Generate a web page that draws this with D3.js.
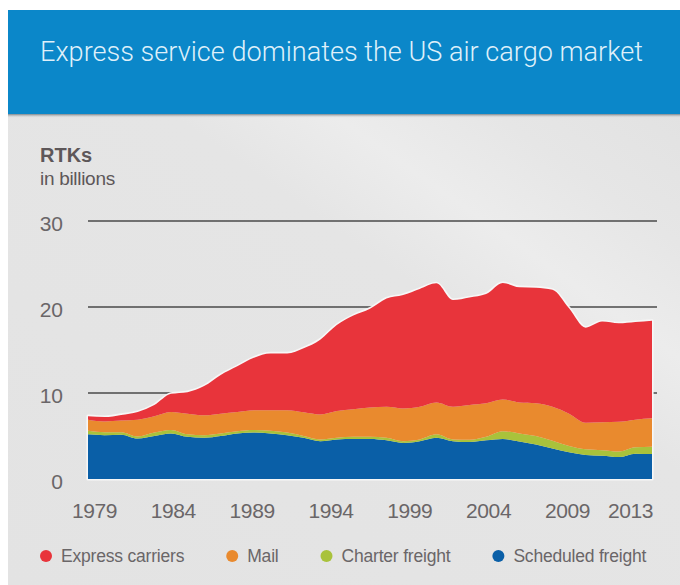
<!DOCTYPE html>
<html>
<head>
<meta charset="utf-8">
<script src="https://cdn.jsdelivr.net/npm/d3@7"></script>
<style>
  html, body { margin: 0; padding: 0; background: #ffffff; }
  svg { display: block; }
</style>
</head>
<body>
<svg id="chart" width="680" height="585"></svg>
<script>
// Revenue tonne-kilometres (billions) flown by US air cargo segment, 1979-2013
const years = [1979, 1980, 1981, 1982, 1983, 1984, 1985, 1986, 1987, 1988,
               1989, 1990, 1991, 1992, 1993, 1994, 1995, 1996, 1997, 1998,
               1999, 2000, 2001, 2002, 2003, 2004, 2005, 2006, 2007, 2008,
               2009, 2010, 2011, 2012, 2013];

const scheduledFreight = [5.2, 5.1, 5.15, 4.7, 5.0, 5.3, 4.9, 4.8, 5.0, 5.3,
                          5.4, 5.3, 5.1, 4.8, 4.4, 4.6, 4.65, 4.65, 4.5, 4.2,
                          4.4, 4.8, 4.4, 4.3, 4.5, 4.65, 4.35, 4.0, 3.55, 3.1,
                          2.8, 2.7, 2.55, 2.95, 2.9];
const charterFreight = [0.4, 0.35, 0.3, 0.25, 0.4, 0.4, 0.3, 0.3, 0.3, 0.25,
                        0.3, 0.3, 0.3, 0.2, 0.2, 0.2, 0.25, 0.25, 0.3, 0.2,
                        0.2, 0.4, 0.2, 0.25, 0.4, 0.9, 0.95, 1.0, 0.9, 0.75,
                        0.65, 0.65, 0.65, 0.75, 0.85];
const mail = [1.3, 1.25, 1.35, 1.95, 1.9, 2.1, 2.4, 2.3, 2.3, 2.25,
              2.3, 2.4, 2.6, 2.75, 2.9, 3.1, 3.2, 3.4, 3.6, 3.8,
              3.8, 3.7, 3.8, 4.05, 3.9, 3.7, 3.6, 3.8, 3.95, 3.75,
              3.1, 3.25, 3.45, 3.2, 3.3];
const expressCarriers = [0.4, 0.5, 0.65, 0.9, 1.3, 2.1, 2.5, 3.4, 4.5, 5.3,
                         6.1, 6.6, 6.6, 7.45, 8.7, 10.0, 10.9, 11.5, 12.6, 13.2,
                         13.7, 13.85, 12.4, 12.5, 12.7, 13.55, 13.4, 13.45, 13.6, 12.25,
                         11.05, 11.7, 11.45, 11.35, 11.35];

const tickYears = [1979, 1984, 1989, 1994, 1999, 2004, 2009, 2013];
const yTicks = [0, 10, 20, 30];

// Stack order, bottom to top
const seriesKeys = ["scheduled", "charter", "mail", "express"];
const seriesLabels = {
  express: "Express carriers",
  mail: "Mail",
  charter: "Charter freight",
  scheduled: "Scheduled freight"
};
const seriesColors = {
  express: "#e8343b",
  mail: "#e98a2e",
  charter: "#a9c23b",
  scheduled: "#0a5fa7"
};
const legendOrder = ["express", "mail", "charter", "scheduled"];

const titleText = "Express service dominates the US air cargo market";

const rows = years.map((yr, i) => ({
  year: yr,
  scheduled: scheduledFreight[i],
  charter: charterFreight[i],
  mail: mail[i],
  express: expressCarriers[i]
}));

const svg = d3.select("#chart");
const W = 680, H = 585;
const FONT = "'Liberation Sans', Arial, Helvetica, sans-serif";

// ---- card background ----
const defs = svg.append("defs");
const panelGrad = defs.append("linearGradient")
  .attr("id", "panelGrad")
  .attr("x1", "0").attr("y1", "1").attr("x2", "1").attr("y2", "0");
panelGrad.append("stop").attr("offset", "0").attr("stop-color", "#e3e3e3");
panelGrad.append("stop").attr("offset", "0.62").attr("stop-color", "#e5e5e5");
panelGrad.append("stop").attr("offset", "0.74").attr("stop-color", "#ececec");
panelGrad.append("stop").attr("offset", "0.86").attr("stop-color", "#e6e6e6");
panelGrad.append("stop").attr("offset", "1").attr("stop-color", "#e2e2e2");

const shadowGrad = defs.append("linearGradient")
  .attr("id", "shadowGrad")
  .attr("x1", "0").attr("y1", "0").attr("x2", "0").attr("y2", "1");
shadowGrad.append("stop").attr("offset", "0").attr("stop-color", "#6f7a82").attr("stop-opacity", 0.9);
shadowGrad.append("stop").attr("offset", "1").attr("stop-color", "#e4e4e4").attr("stop-opacity", 0);

svg.append("rect").attr("x", 8).attr("y", 113).attr("width", W - 8).attr("height", H - 113)
  .attr("fill", "url(#panelGrad)");

// title band
svg.append("rect").attr("x", 8).attr("y", 10).attr("width", W - 8).attr("height", 104)
  .attr("fill", "#0b87c9");
svg.append("rect").attr("x", 8).attr("y", 114).attr("width", W - 8).attr("height", 4)
  .attr("fill", "url(#shadowGrad)");

const title = svg.append("text")
  .attr("x", 40).attr("y", 61)
  .attr("fill", "#dff0fa")
  .style("font-family", "Roboto, 'Liberation Sans', Arial, sans-serif")
  .style("font-weight", 300)
  .style("font-size", "24px")
  .text(titleText);
// fit the title to the band width
const tLen = title.node().getComputedTextLength();
title.style("font-size", (24 * 603 / tLen).toFixed(2) + "px");

// unit label
svg.append("text").attr("x", 40).attr("y", 162)
  .attr("fill", "#5d5759")
  .style("font-family", FONT).style("font-weight", "bold").style("font-size", "20px")
  .text("RTKs");
svg.append("text").attr("x", 40).attr("y", 185)
  .attr("fill", "#5d5759")
  .style("font-family", FONT).style("font-size", "19px")
  .style("letter-spacing", "-0.3px")
  .text("in billions");

// ---- scales ----
const x = d3.scaleLinear().domain([1979, 2013]).range([88, 652]);
// year labels sit on their own evenly spread scale under the plot
const xLabels = d3.scaleLinear().domain([1979, 2013]).range([94, 630]);
const y = d3.scaleLinear().domain([0, 30]).range([479, 221]);

// gridlines
svg.append("g")
  .selectAll("line")
  .data(yTicks.filter(v => v > 0))
  .join("line")
  .attr("x1", x.range()[0])
  .attr("x2", x.range()[1] + 5)
  .attr("y1", d => y(d))
  .attr("y2", d => y(d))
  .attr("stroke", "#4a4a4a")
  .attr("stroke-width", 1.3);

// y axis labels
const yAxis = svg.append("g")
  .attr("transform", "translate(63,0)")
  .call(d3.axisLeft(y).tickValues(yTicks).tickSize(0).tickPadding(0));
yAxis.select(".domain").remove();
yAxis.selectAll("text")
  .attr("dy", "0.45em")
  .attr("fill", "#6a6668")
  .style("font-family", FONT)
  .style("font-size", "21px");

// ---- stacked areas ----
const stack = d3.stack().keys(seriesKeys);
const layers = stack(rows);

const area = d3.area()
  .x(d => x(d.data.year))
  .y0(d => y(d[0]))
  .y1(d => y(d[1]))
  .curve(d3.curveMonotoneX);

// thin light rim around the whole stack
const topLayer = layers[layers.length - 1];
svg.append("path")
  .datum(topLayer)
  .attr("d", d3.area()
    .x(d => x(d.data.year))
    .y0(y(0))
    .y1(d => y(d[1]))
    .curve(d3.curveMonotoneX))
  .attr("fill", "none")
  .attr("stroke", "#f7f7f7")
  .attr("stroke-width", 3.2)
  .attr("stroke-linejoin", "round");

svg.append("g")
  .selectAll("path")
  .data(layers)
  .join("path")
  .attr("d", area)
  .attr("fill", d => seriesColors[d.key]);

// x axis labels
const xAxis = svg.append("g")
  .attr("transform", "translate(0,503)")
  .call(d3.axisBottom(xLabels).tickValues(tickYears).tickFormat(d3.format("d")).tickSize(0).tickPadding(0));
xAxis.select(".domain").remove();
xAxis.selectAll("text")
  .attr("fill", "#6a6668")
  .style("font-family", FONT)
  .style("font-size", "21px")
  .style("letter-spacing", "-0.4px");

// ---- legend ----
const legend = svg.append("g").attr("transform", "translate(0,556)");
let cursor = 46;
legendOrder.forEach(key => {
  const g = legend.append("g").attr("transform", `translate(${cursor},0)`);
  g.append("circle").attr("r", 6).attr("fill", seriesColors[key]);
  const t = g.append("text")
    .attr("x", 15).attr("dy", "0.35em")
    .attr("fill", "#6a6668")
    .style("font-family", FONT)
    .style("font-size", "17.5px")
    .style("letter-spacing", "-0.2px")
    .text(seriesLabels[key]);
  cursor += 15 + t.node().getComputedTextLength() + 48;
});
</script>
</body>
</html>
